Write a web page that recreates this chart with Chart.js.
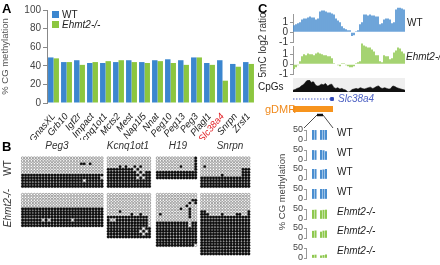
<!DOCTYPE html>
<html><head><meta charset="utf-8">
<script src="https://cdn.jsdelivr.net/npm/chart.js@4.4.1/dist/chart.umd.min.js"></script>
<style>
html,body{margin:0;padding:0;background:#fff;}
#fig{position:relative;width:440px;height:265px;overflow:hidden;font-family:"Liberation Sans",Arial,sans-serif;}
canvas{position:absolute;}
.t{position:absolute;white-space:nowrap;line-height:1;color:#222;}
</style></head><body><div id="fig"></div>
<script>
// ---------------- DATA ----------------
// Panel A
const genes = ['GnasXL','Grb10','Igf2r','Impact','Kcnq1ot1','Mcts2','Mest','Nap1l5','Nnat','Peg10','Peg13','Peg3','Plagl1','Slc38a4','Snrpn','Zrsf1'];
const wtMeth = [49,44,46,43,43,44,46,44,46,47,46,49,43,46,42,44];
const koMeth = [48,44,41,44,45,46,44,43,45,43,41,49,41,24,39,42];
const highlightGene = 'Slc38a4';
const yTicksA = [0,20,40,60,80,100];
const seriesNames = ['WT','Ehmt2-/-'];

// Panel B (bisulfite clones: '#' methylated CpG, '.' unmethylated CpG)
const bGenes = ['Peg3','Kcnq1ot1','H19','Snrpn'];
const wtPeg3 = [
'............................',
'............................',
'....................##.#....',
'............................',
'............................',
'............................',
'############################',
'###########################.',
'#####################.######',
'############################',
'############################'];
const wtKcnq1ot1 = [
'...............',
'...............',
'...............',
'....#.#..#.#...',
'#########.#....',
'##########.#.##',
'###########.###',
'##########.#.##',
'###############',
'###############',
'###############'];
const wtH19 = [
'.............#',
'.............#',
'.............#',
'........#....#',
'.............#',
'##############',
'##############',
'##############'];
const wtSnrpn = [
'.................',
'.................',
'.................',
'.#...............',
'..............###',
'..............###',
'.......#......###',
'#################',
'#################',
'#################',
'#################'];
const koPeg3 = [
'............................',
'............................',
'............................',
'............................',
'............................',
'############################',
'############################',
'############################',
'############################',
'#######.#.#######.##########',
'############################',
'############################'];
const koKcnq1ot1 = [
'...............',
'...............',
'...............',
'...............',
'...............',
'...............',
'....#..........',
'........#..#...',
'##############.',
'#..###########.',
'##############.',
'##############.',
'############.##',
'###########.#.#',
'############.##',
'###############'];
const koH19 = [
'..............',
'..............',
'............##',
'...........#.#',
'..........#...',
'........#..#..',
'...........#..',
'.#.........#..',
'...........#..',
'..............',
'###########.##',
'###########.##',
'##############',
'##############',
'##############',
'##############',
'##############',
'##############',
'#############.'];
const koSnrpn = [
'.................',
'.................',
'.................',
'.................',
'.................',
'.................',
'##..............#',
'###....#....##..#',
'#################','#################','#################','#################',
'#################','#################','#################','#################',
'#################','#################','#################','#################',
'#################','#################'];

// Panel C: 5mC log2 ratio per bin, CpG density per bin
const wtLog2 = [0.7,0.8,0.9,1.0, 1.3,1.4,1.4, 1.5,1.6,1.5,1.5, 1.3,1.4, 2.1,2.2,2.2,2.1, 2.0,2.0,1.9,1.8, 1.4,1.2,1.0,0.6, 0.4,0.3,0.2,0.2, -0.4,-0.3, 0.1,0.2, 0.8,1.0, 1.8,1.8,1.7,1.8,1.7,1.7,1.6,1.6, 0.8,0.9,1.3, 1.4,1.4,1.3,0.9, 1.0,2.3,2.5,2.5,2.4,2.3];
const koLog2 = [-0.5,-0.3,-0.1,0.3, 0.8,1.0,0.9,1.1,1.0, 1.0,0.9,1.1,1.2, 1.1,1.0,0.9,0.9,0.8, 0.8,0.6,0.1,0.05, -0.1,-0.2,0.1,0.1,-0.1, -0.2,-0.3,-0.3,-0.2, 0.1,0.2,0.3, 2.1,1.9,1.8,1.7,1.7, 1.5,1.3,0.9,0.9, 0.3,0.2,0.9,0.8,0.8, 0.5,0.6,1.2, 1.4,1.7,1.6,1.3,1.1];
const cpgDensity = [0.15,0.2,0.3,0.35, 0.5,0.6,0.8,0.95, 1.0,0.8,0.85, 0.6,0.5,0.55, 0.65,0.6,0.7,0.5,0.6, 0.65,0.4, 0.3,0.35,0.25,0.3,0.2,0.15, 0.0,0.05, 0.2,0.25,0.3,0.25,0.35,0.3,0.25,0.3,0.35,0.4,0.3,0.35,0.45,0.5,0.35,0.3,0.35,0.3,0.25,0.3,0.5,0.45,0.35,0.3,0.25,0.2,0.15];
const log2Ticks = [-1,0,1];
const geneName = 'Slc38a4';
const geneSpan = [0,19.5];      // in bins
const gdmrSpan = [0,20];
const zoomSpan = [12,15];
// Panel C bottom: % CG methylation at 5 CpGs of the gDMR amplicon
const ampCpG = [1,2,4.2,5.2,6.2];
const ampSamples = ['WT','WT','WT','WT','Ehmt2-/-','Ehmt2-/-','Ehmt2-/-'];
const ampWT1 = [50,48,50,50,50];
const ampWT2 = [48,47,50,47,42];
const ampWT3 = [50,48,44,46,50];
const ampWT4 = [50,50,50,50,50];
const ampKO1 = [44,45,42,44,45];
const ampKO2 = [34,36,30,35,36];
const ampKO3 = [14,15,11,13,16];
const ampTicks = [0,50];

// ---------------- HELPERS ----------------
const FF = "'Liberation Sans', Arial, Helvetica, sans-serif";
Chart.defaults.font.family = FF;
const BLUE = '#3b86cf', GREEN = '#8cc63f';
const fig = document.getElementById('fig');
function mk(l,t,w,h){const c=document.createElement('canvas');c.width=w;c.height=h;c.style.left=l+'px';c.style.top=t+'px';c.style.width=w+'px';c.style.height=h+'px';fig.appendChild(c);return c;}
function txt(s,l,t,css,tf){const d=document.createElement('div');d.className='t';d.textContent=s;d.style.left=l+'px';d.style.top=t+'px';if(css)d.style.cssText+=css;d.style.transform=tf||'translateY(-50%)';fig.appendChild(d);return d;}
const base = {responsive:false,animation:false,devicePixelRatio:1,events:[],plugins:{legend:{display:false},tooltip:{enabled:false}}};
function opts(o){return Object.assign({},base,o);}

// ---------------- PANEL A ----------------
const legendInside = {id:'legendInside',afterDraw(chart){const {ctx,chartArea:a}=chart;ctx.save();chart.data.datasets.forEach((ds,i)=>{const y=a.top+1+i*10;ctx.fillStyle=ds.backgroundColor;ctx.fillRect(a.left+5,y,7,7);ctx.font=(ds.italicLabel?'italic ':'')+'10px '+FF;ctx.fillStyle='#222';ctx.textBaseline='middle';ctx.fillText(ds.label,a.left+15,y+4);});ctx.restore();}};
new Chart(mk(0,0,258,140),{type:'bar',
 data:{labels:genes,datasets:[
  {label:seriesNames[0],data:wtMeth,backgroundColor:BLUE,barPercentage:1,categoryPercentage:0.84},
  {label:seriesNames[1],data:koMeth,backgroundColor:GREEN,barPercentage:1,categoryPercentage:0.84,italicLabel:true}]},
 options:opts({layout:{padding:{top:10,right:3,left:0,bottom:0}},
  scales:{
   x:{grid:{display:false},border:{display:false},
      ticks:{autoSkip:false,minRotation:50,maxRotation:50,padding:0,font:{size:9.5,style:'italic'},
        color:c=>genes[c.index]===highlightGene?'#e3262b':'#222'},
      afterFit:s=>{s.height=37;}},
   y:{min:0,max:100,afterBuildTicks:s=>{s.ticks=yTicksA.map(v=>({value:v}));},
      ticks:{autoSkip:false,font:{size:10},color:'#444',padding:2},
      grid:{drawOnChartArea:false,tickLength:4,color:'#888'},border:{color:'#888'},
      title:{display:true,text:'% CG methylation',font:{size:9.5},color:'#555',padding:0},
      afterFit:s=>{s.width=47;}}}}),
 plugins:[legendInside]});

// ---------------- PANEL B ----------------
const PITCH = 3.05;
const gridX = [18.5,107.5,158.5,204.5];
const gridY = [154.5,194];
const bGrids = [[wtPeg3,wtKcnq1ot1,wtH19,wtSnrpn],[koPeg3,koKcnq1ot1,koH19,koSnrpn]];
const methPts=[], unmethPts=[];
bGrids.forEach((row,ri)=>row.forEach((g,gi)=>{const w=g[0].length;g.forEach((s,r)=>{for(let c=0;c<w;c++){const ch=s[c]||s[s.length-1];const p={x:gridX[gi]+c*PITCH,y:gridY[ri]+r*PITCH};(ch==='#'?methPts:unmethPts).push(p);}});}));
new Chart(mk(0,138,260,127),{type:'scatter',
 data:{datasets:[
  {data:unmethPts,pointRadius:1.25,pointBorderWidth:0.8,pointBackgroundColor:'#fff',pointBorderColor:'#8c8c8c',clip:false},
  {data:methPts,pointRadius:1.5,pointBorderWidth:0.2,pointBackgroundColor:'#111',pointBorderColor:'#111',clip:false}]},
 options:opts({layout:{padding:0},scales:{x:{display:false,min:0,max:260},y:{display:false,min:138,max:265,reverse:true}}})});

// ---------------- PANEL C tracks ----------------
const bins = wtLog2.map((_,i)=>String(i+1));
function log2Chart(top,h,pt,data,color){
 return new Chart(mk(262,top,150,h),{type:'bar',
  data:{labels:bins,datasets:[{data:data,backgroundColor:color,barPercentage:0.8,categoryPercentage:1,clip:false}]},
  options:opts({layout:{padding:{top:pt,bottom:h-pt-28,left:0,right:7}},
   scales:{x:{display:false},
    y:{min:-1,max:1.8,afterBuildTicks:s=>{s.ticks=log2Ticks.map(v=>({value:v}));},
       ticks:{autoSkip:false,font:{size:10},color:'#333',padding:2},
       grid:{drawOnChartArea:false,tickLength:3,color:'#999'},border:{color:'#999'},
       afterFit:s=>{s.width=31;}}}})});
}
log2Chart(0,50,14.5,wtLog2,'#4a8ed0');
log2Chart(36,46,10.5,koLog2,'#8fc84f');

const cpgBg = {id:'cpgBg',beforeDatasetsDraw(chart){const {ctx,chartArea:a}=chart;ctx.save();ctx.fillStyle='#efefef';ctx.fillRect(a.left,a.top-2,a.right-a.left,a.bottom-a.top+2);ctx.restore();}};
new Chart(mk(262,70,150,32),{type:'line',
 data:{labels:bins,datasets:[{data:cpgDensity,fill:'origin',backgroundColor:'#111',borderColor:'#111',borderWidth:0.6,pointRadius:0,tension:0.3}]},
 options:opts({layout:{padding:{left:31,right:7,top:10,bottom:10}},scales:{x:{display:false},y:{display:false,min:0,max:1}}}),
 plugins:[cpgBg]});

new Chart(mk(262,88,150,48),{type:'scatter',
 data:{datasets:[
  {data:[{x:geneSpan[0],y:0},{x:geneSpan[1],y:0}],showLine:true,borderColor:'#4f63c4',borderWidth:1,borderDash:[1.5,1.5],pointRadius:0,clip:false},
  {data:[{x:geneSpan[1],y:0}],pointStyle:'rect',pointRadius:2,pointBackgroundColor:'#2f47b8',pointBorderColor:'#2f47b8',clip:false},
  {data:[{x:gdmrSpan[0],y:1},{x:gdmrSpan[1],y:1}],showLine:true,borderColor:'#f7941d',borderWidth:6,borderCapStyle:'butt',pointRadius:0,clip:false},
  {data:[{x:zoomSpan[0],y:1.6},{x:zoomSpan[1],y:1.6}],showLine:true,borderColor:'#111',borderWidth:2.5,borderCapStyle:'butt',pointRadius:0,clip:false},
  {data:[{x:zoomSpan[0],y:1.6},{x:5.5,y:2.9}],showLine:true,borderColor:'#222',borderWidth:0.8,pointRadius:0,clip:false},
  {data:[{x:zoomSpan[1],y:1.6},{x:20,y:2.9}],showLine:true,borderColor:'#222',borderWidth:0.8,pointRadius:0,clip:false}]},
 options:opts({layout:{padding:{left:31,right:7,top:7,bottom:8}},scales:{x:{display:false,min:0,max:56},y:{display:false,min:-0.4,max:2.9,reverse:true}}})});

// ---------------- PANEL C amplicon bars ----------------
const ampData = [ampWT1,ampWT2,ampWT3,ampWT4,ampKO1,ampKO2,ampKO3];
ampData.forEach((vals,i)=>{
 const level = 130 + i*19.65;
 const isWT = ampSamples[i]==='WT';
 new Chart(mk(288,Math.round(level-7),48,24),{type:'bar',
  data:{datasets:[{data:ampCpG.map((p,j)=>({x:p,y:vals[j]})),backgroundColor:isWT?'#4a8ed0':'#8fc84f',barThickness:1.4}]},
  options:opts({layout:{padding:{top:7,bottom:7,left:0,right:6}},
   scales:{x:{type:'linear',display:false,offset:false,min:-1.8,max:7.8},
    y:{min:0,max:50,afterBuildTicks:s=>{s.ticks=ampTicks.map(v=>({value:v}));},
       ticks:{autoSkip:false,font:{size:9},color:'#444',padding:1},
       grid:{drawOnChartArea:false,tickLength:2,color:'#999'},border:{color:'#999'},
       afterFit:s=>{s.width=18;}}}})});
 txt(ampSamples[i],337,level+3,'font-size:10px;'+(isWT?'':'font-style:italic;'));
});

// ---------------- TEXT ----------------
txt('A',2,8,'font-size:13px;font-weight:bold;color:#000;');
txt('B',2,146,'font-size:13px;font-weight:bold;color:#000;');
txt('C',258,8,'font-size:13px;font-weight:bold;color:#000;');
const bTitleX=[57,128,178,230];
bGenes.forEach((g,i)=>txt(g,bTitleX[i],146,'font-size:10px;font-style:italic;color:#333;','translate(-50%,-50%)'));
txt(seriesNames[0],8,168,'font-size:10px;color:#333;','translate(-50%,-50%) rotate(-90deg)');
txt(seriesNames[1],8,208,'font-size:10px;font-style:italic;color:#333;','translate(-50%,-50%) rotate(-90deg)');
txt('5mC log2 ratio',263,45,'font-size:10px;color:#333;','translate(-50%,-50%) rotate(-90deg)');
txt(seriesNames[0],407,23,'font-size:10px;');
txt(seriesNames[1],406,57,'font-size:10px;font-style:italic;');
txt('CpGs',258,87,'font-size:10px;');
txt(geneName,338,99,'font-size:10px;font-style:italic;color:#4f63c4;');
txt('gDMR',265,109,'font-size:11px;color:#f08a1c;');
txt('% CG methylation',282,192,'font-size:9.5px;color:#444;','translate(-50%,-50%) rotate(-90deg)');
</script></body></html>
